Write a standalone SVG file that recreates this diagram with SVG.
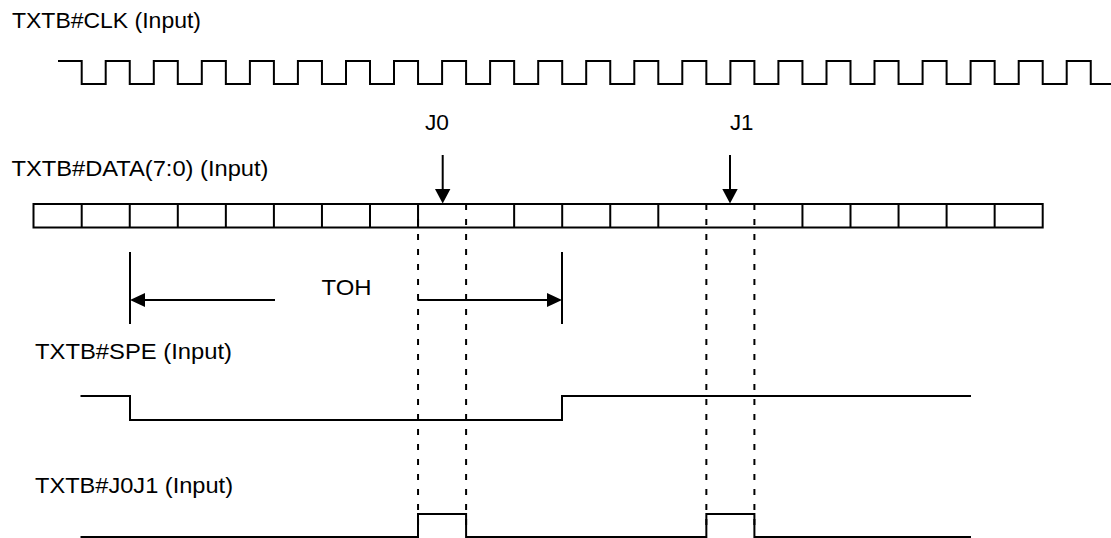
<svg xmlns="http://www.w3.org/2000/svg" width="1111" height="538" viewBox="0 0 1111 538">
<style>
.lbl{font-family:"Liberation Sans",Arial,sans-serif;font-size:22.5px;fill:#000}
.w{fill:none;stroke:#000;stroke-width:2}
.d{fill:none;stroke:#000;stroke-width:2;stroke-dasharray:6 9}
.ah{fill:#000;stroke:none}
</style>
<rect width="1111" height="538" fill="#fff"/>
<g id="clk">
<text class="lbl" x="12" y="28" textLength="189" lengthAdjust="spacingAndGlyphs">TXTB#CLK (Input)</text>
<path class="w" d="M58,61 H81.7 V84 H105.7 V61 H129.75 V84 H153.8 V61 H177.8 V84 H201.8 V61 H225.85 V84 H249.9 V61 H273.9 V84 H297.9 V61 H321.95 V84 H346 V61 H370 V84 H394 V61 H418.05 V84 H442.1 V61 H466.1 V84 H490.1 V61 H514.15 V84 H538.2 V61 H562.2 V84 H586.2 V61 H610.25 V84 H634.3 V61 H658.3 V84 H682.3 V61 H706.35 V84 H730.4 V61 H754.4 V84 H778.4 V61 H802.45 V84 H826.5 V61 H850.5 V84 H874.5 V61 H898.55 V84 H922.6 V61 H946.6 V84 H970.6 V61 H994.65 V84 H1018.7 V61 H1042.7 V84 H1066.7 V61 H1090.75 V84 H1111"/>
</g>
<g id="data">
<text class="lbl" x="11.5" y="176" textLength="257" lengthAdjust="spacingAndGlyphs">TXTB#DATA(7:0) (Input)</text>
<rect class="w" x="33.5" y="204" width="1009.2" height="23.5"/>
<path class="w" d="M81.7,204V227.5 M129.75,204V227.5 M177.8,204V227.5 M225.85,204V227.5 M273.9,204V227.5 M321.95,204V227.5 M370,204V227.5 M418.05,204V227.5 M514.15,204V227.5 M562.2,204V227.5 M610.25,204V227.5 M658.3,204V227.5 M802.45,204V227.5 M850.5,204V227.5 M898.55,204V227.5 M946.6,204V227.5 M994.65,204V227.5"/>
</g>
<g id="j0">
<text class="lbl" x="425" y="130" textLength="24" lengthAdjust="spacingAndGlyphs">J0</text>
</g>
<g id="j1">
<text class="lbl" x="730" y="130" textLength="23.5" lengthAdjust="spacingAndGlyphs">J1</text>
</g>
<g id="toh">
<text class="lbl" x="321.5" y="295" textLength="50" lengthAdjust="spacingAndGlyphs">TOH</text>
<path class="w" d="M130,252V324 M562,252V324"/>
</g>
<g id="spe">
<text class="lbl" x="35" y="359" textLength="197" lengthAdjust="spacingAndGlyphs">TXTB#SPE (Input)</text>
<path class="w" d="M80.5,396 H130 V420 H562 V396 H971"/>
</g>
<g id="j0j1">
<text class="lbl" x="35" y="492.5" textLength="198" lengthAdjust="spacingAndGlyphs">TXTB#J0J1 (Input)</text>
<path class="w" d="M80.5,537 H418 V514 H466.1 V537 H706.35 V514 H754.4 V537 H971"/>
</g>
<g id="connectors">
<path class="w" d="M442.7,155V192"/>
<polygon class="ah" points="435,189 450.4,189 442.7,203.5"/>
<path class="w" d="M730,155V192"/>
<polygon class="ah" points="722.3,189 737.7,189 730,203.5"/>
<path class="w" d="M143,300H275 M417.5,300H549"/>
<polygon class="ah" points="130,300 145,293 145,307"/>
<polygon class="ah" points="562,300 547,293 547,307"/>
<path class="d" d="M418.05,204V527 M466.1,204V527 M706.35,204V527 M754.4,204V527"/>
</g>
</svg>
